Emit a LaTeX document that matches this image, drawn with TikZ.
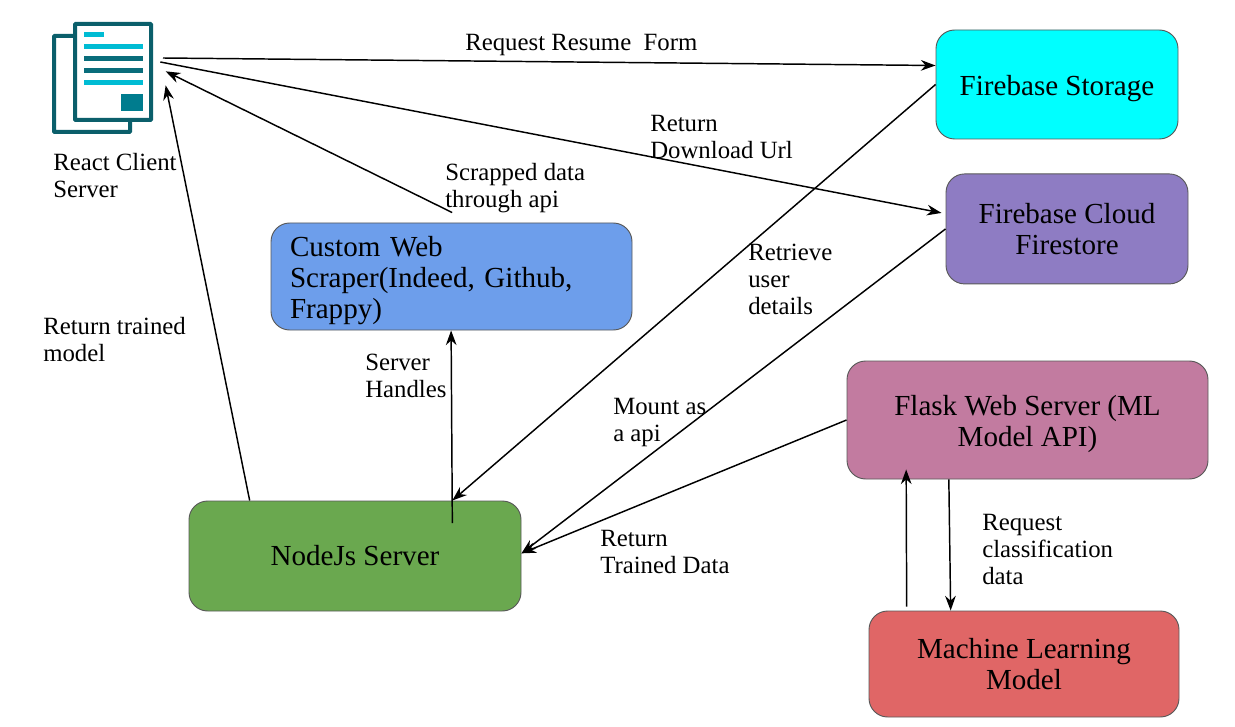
\documentclass[tikz,border=0pt]{standalone}
\usepackage{fontspec}
\setmainfont{Liberation Serif}
\usetikzlibrary{arrows.meta,positioning}

\definecolor{iconDark}{HTML}{0B5F6B}
\definecolor{iconLight}{HTML}{00BCD4}
\definecolor{iconSquare}{HTML}{007C8E}
\definecolor{storageFill}{RGB}{0,255,255}
\definecolor{firestoreFill}{RGB}{142,124,195}
\definecolor{flaskFill}{RGB}{194,123,160}
\definecolor{modelFill}{RGB}{224,102,102}
\definecolor{scraperFill}{RGB}{109,158,235}
\definecolor{nodejsFill}{RGB}{106,168,79}

\begin{document}
\begin{tikzpicture}[x=0.75pt,y=-0.75pt]
  \tikzset{
    block/.style={draw=black!65, line width=0.7pt, rounded corners=14pt, align=center, inner sep=2pt, font=\fontsize{21.8}{23.3}\selectfont},
    flow/.style={-{Stealth[length=11pt,width=8pt]}, line width=1.1pt},
    note/.style={anchor=north west, align=left, inner sep=0pt, font=\fontsize{18.6}{20.2}\selectfont},
    bar/.style={fill=#1, draw=none}
  }
  \useasboundingbox (0,0) rectangle (1235,727);

  % document icon
  \draw[iconDark, line width=3pt, fill=white, rounded corners=0.5pt] (54,36) rectangle (130,132);
  \draw[iconDark, line width=3pt, fill=white, rounded corners=0.5pt] (75,24) rectangle (151,120);
  \fill[bar=iconLight] (84,32) rectangle (104,37);
  \fill[bar=iconLight] (84,44) rectangle (143,49);
  \fill[bar=iconDark!85!iconLight] (84,56) rectangle (143,61);
  \fill[bar=iconDark!85!iconLight] (84,68) rectangle (143,73);
  \fill[bar=iconLight] (84,80) rectangle (143,85);
  \fill[bar=iconSquare] (121,94) rectangle (143,111);
  \node[minimum width=76.5pt, minimum height=84pt, inner sep=0pt] (client) at (103,78) {};

  \node[block, fill=storageFill, minimum width=181.5pt, minimum height=81.75pt, text height=20.5pt] (storage) at (1057,84.5) {Firebase Storage};
  \node[block, fill=firestoreFill, minimum width=181.5pt, minimum height=82.5pt, below=25.5pt of storage.south, xshift=7.5pt, anchor=north] (firestore) {Firebase Cloud\\Firestore};
  \node[block, fill=flaskFill, minimum width=270.75pt, minimum height=88.5pt, text height=45pt] (flask) at (1027.5,420) {Flask Web Server (ML\\Model API)};
  \node[block, fill=modelFill, minimum width=232.5pt, minimum height=79.5pt] (mlmodel) at (1024,664) {Machine Learning\\Model};
  \node[block, fill=scraperFill, minimum width=270.75pt, minimum height=80.25pt, align=left, text width=242.25pt, inner xsep=14.25pt, text height=21pt] (scraper) at (451.5,276.5) {Custom Web\\Scraper(Indeed, Github,\\Frappy)};
  \node[block, fill=nodejsFill, minimum width=249pt, minimum height=82.5pt] (nodejs) at (355,556) {NodeJs Server};

  \draw[flow] ([xshift=45pt,yshift=15pt]client.center) -- ([yshift=14.25pt]storage.west);
  \draw[flow] ([xshift=43pt,yshift=12pt]client.center) -- ([xshift=-3pt,yshift=12pt]firestore.west);
  \draw[flow] ([xshift=0.5pt,yshift=7.5pt]scraper.north) -- ([xshift=47pt,yshift=5pt]client.center);
  \draw[flow] ([xshift=-79pt]nodejs.north) -- ([xshift=47pt,yshift=-5.5pt]client.center);
  \draw[flow] ([xshift=73pt,yshift=-17pt]nodejs.north) -- ([xshift=-0.3pt]scraper.south);
  \draw[flow] (storage.west) -- ([xshift=73pt]nodejs.north);
  \draw[flow] (firestore.west) -- ([yshift=2pt]nodejs.east);
  \draw[flow] (flask.west) -- ([yshift=2pt]nodejs.east);
  \draw[flow] ([xshift=-88pt,yshift=3pt]mlmodel.north) -- ([xshift=-91pt,yshift=7.5pt]flask.south);
  \draw[flow] ([xshift=-59pt]flask.south) -- ([xshift=-55pt]mlmodel.north);

  \node[note] (lbClient) at (53,153) {React Client\\Server};
  \node[note] (lbRequest) at (465,34) {Request Resume~~Form};
  \node[note] (lbDownload) at (650,115) {Return\\Download Url};
  \node[note] (lbScrapped) at (445,163.5) {Scrapped data\\through api};
  \node[note] (lbRetrieve) at (748,244) {Retrieve\\user\\details};
  \node[note] (lbTrained) at (43,317) {Return trained\\model};
  \node[note] (lbHandles) at (365,354) {Server\\Handles};
  \node[note] (lbMount) at (613,398) {Mount as\\a api};
  \node[note] (lbReturn) at (600,530) {Return\\Trained Data};
  \node[note] (lbClassify) at (982,514) {Request\\classification\\data};
\end{tikzpicture}
\end{document}
